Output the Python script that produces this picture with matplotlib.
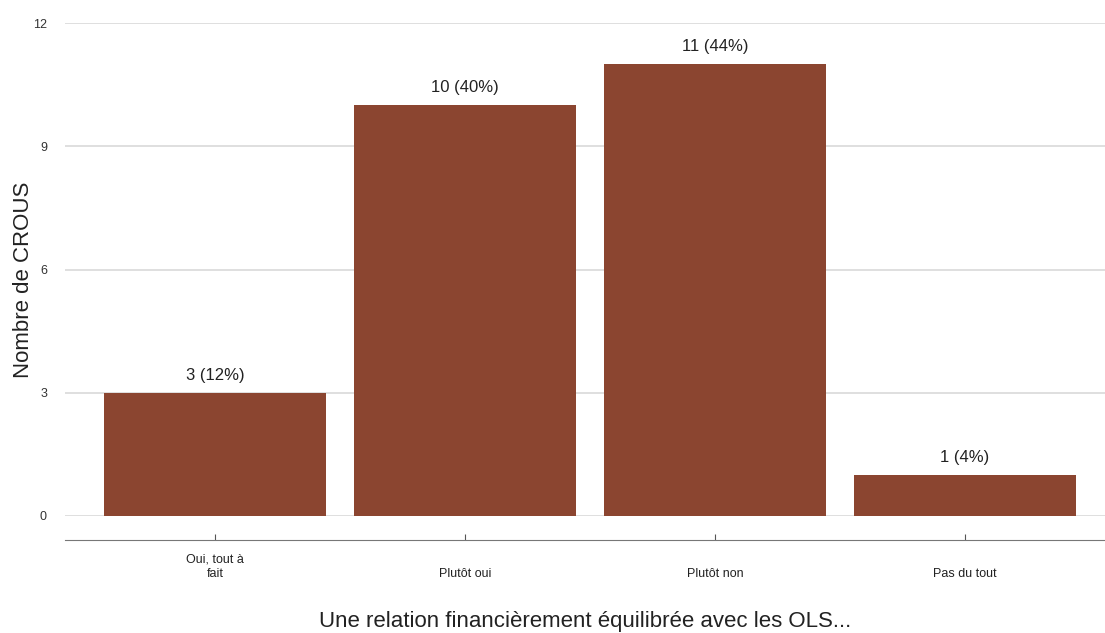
import matplotlib.pyplot as plt

plt.rcParams['font.family'] = ['Liberation Sans', 'DejaVu Sans']

categories = ['Oui, tout à\nfait', 'Plutôt oui', 'Plutôt non', 'Pas du tout']
counts = [3, 10, 11, 1]
yticks = [0, 3, 6, 9, 12]

fig = plt.figure(figsize=(11.05, 6.33), dpi=100)
ax = fig.add_axes([65 / 1105, 117 / 633, 1040 / 1105, 493 / 633])

total = sum(counts)
x = list(range(len(categories)))
ax.bar(x, counts, width=0.89, color='#8b4530', zorder=2)

# value labels with share
for xi, c in zip(x, counts):
    ax.annotate(f'{c} ({round(100 * c / total)}%)', (xi, c), xytext=(0, 7),
                textcoords='offset points', ha='center', va='bottom',
                fontsize=12, color='#222222')

ax.set_xlim(-0.6, 3.56)
ax.set_ylim(0, 12)
ax.set_yticks(yticks)
ax.yaxis.grid(True, color='#d9d9d9', linewidth=1.2, zorder=0)
ax.set_axisbelow(True)

for s in ['top', 'right', 'left']:
    ax.spines[s].set_visible(False)
ax.spines['bottom'].set_position(('outward', 17))
ax.spines['bottom'].set_color('#777777')

ax.set_xticks(x)
ax.set_xticklabels(categories, fontsize=9, color='#222222', linespacing=1.3,
                   va='baseline')
ax.tick_params(axis='x', direction='in', length=4, color='#555555', pad=27)
ax.tick_params(axis='y', length=0, labelsize=9, labelcolor='#333333', pad=13)

ax.set_ylabel('Nombre de CROUS', fontsize=16, color='#222222')
ax.yaxis.set_label_coords(-0.03, 0.48)
ax.set_xlabel('Une relation financièrement équilibrée avec les OLS...', fontsize=16,
              color='#222222', labelpad=22)

fig.savefig('out.png', dpi=100)
